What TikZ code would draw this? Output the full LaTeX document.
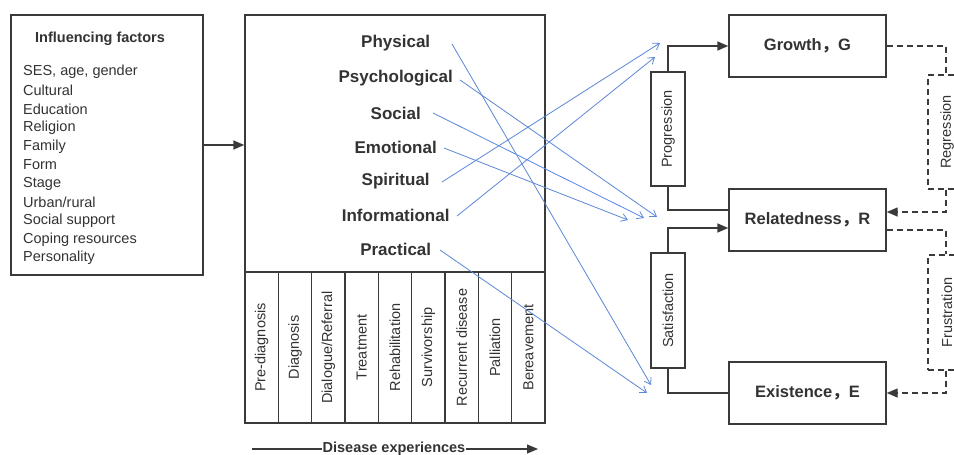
\documentclass[tikz,border=0pt]{standalone}
\usepackage{fontspec}
\setmainfont{Liberation Sans}
\newfontfamily\cjk{Noto Sans CJK SC}
\usetikzlibrary{arrows.meta}
\definecolor{ink}{HTML}{333333}
\definecolor{lin}{HTML}{3A3A3A}
\definecolor{blu}{HTML}{5B87D6}
\tikzset{
  box/.style={draw=lin, line width=1.4pt, inner sep=0pt},
  dbox/.style={box, dash pattern=on 6pt off 4pt},
  reg/.style={font=\fontsize{14.5}{17}\selectfont, text=ink, inner sep=0pt},
  regb/.style={font=\fontsize{14.5}{17}\selectfont\bfseries, text=ink, inner sep=0pt},
  cat/.style={font=\fontsize{17}{20}\selectfont\bfseries, text=ink, inner sep=0pt},
  erg/.style={font=\fontsize{16.5}{19}\selectfont\bfseries, text=ink},
  stagecell/.style={box, line width=1.2pt, minimum width=33.33pt, minimum height=151pt},
  vtext/.style={reg, rotate=90},
  link/.style={draw=blu, line width=0.8pt, -{Straight Barb[length=6pt,width=8pt]}},
  conn/.style={draw=lin, line width=1.4pt},
  tip/.style={-{Triangle[length=11pt,width=9pt]}},
  dconn/.style={conn, dash pattern=on 6pt off 4pt},
}
\begin{document}
\begin{tikzpicture}[x=1pt,y=-1pt]
\path[use as bounding box, clip] (0,0) rectangle (954,455);
\fill[white] (0,0) rectangle (954,455);

% influencing factors
\node[box, minimum width=192pt, minimum height=260pt] (inf) at (107,145) {};
\node[regb] (inft) at (100,39) {Influencing factors};
\foreach \t [count=\i] in {{SES, age, gender},Cultural,Education,Religion,Family,Form,Stage,Urban/rural,Social support,Coping resources,Personality}
  \node[reg, anchor=west] (f\i) at (23,{72+(\i-1)*18.6}) {\t};

% disease box
\node[box, minimum width=300pt, minimum height=257pt] (dis) at (395,143.5) {};
\foreach \t [count=\i] in {Pre-diagnosis,Diagnosis,Dialogue/Referral,Treatment,Rehabilitation,Survivorship,Recurrent disease,Palliation,Bereavement}{
  \node[stagecell] (s\i) at ({245+(\i-0.5)*33.333},347.5) {};
  \node[vtext] (st\i) at (s\i) {\t};
}
\draw[box, fill=none] (245,15) rectangle (545,423);

\node[cat] (phy) at (395.7,43) {Physical};
\node[cat] (psy) at (395.7,78) {Psychological};
\node[cat] (soc) at (395.7,113) {Social};
\node[cat] (emo) at (395.7,147) {Emotional};
\node[cat] (spi) at (395.7,181) {Spiritual};
\node[cat] (inform) at (395.7,215) {Informational};
\node[cat] (pra) at (395.7,249) {Practical};

\draw[conn, tip] (inf.east) -- (inf.east -| dis.west);

% disease experiences arrow
\coordinate (de1) at (252,449);
\coordinate (de2) at (538,449);
\draw[conn, line width=1.2pt, tip] (de1) -- (de2);
\node[regb, fill=white, inner xsep=1pt] (det) at (394,449) {Disease experiences};

% ERG boxes
\node[box, minimum width=157pt, minimum height=62pt] (G) at (807.5,46) {};
\node[erg] at (G) {Growth{\cjk ，}G};
\node[box, minimum width=157pt, minimum height=62pt] (R) at (807.5,220) {};
\node[erg] at (R) {Relatedness{\cjk ，}R};
\node[box, minimum width=157pt, minimum height=62pt] (E) at (807.5,393) {};
\node[erg] at (E) {Existence{\cjk ，}E};

\node[box, minimum width=34pt, minimum height=114pt] (prog) at (668,129) {};
\node[vtext] at (prog) {Progression};
\node[box, minimum width=34pt, minimum height=115pt] (sat) at (668,310.5) {};
\node[vtext] at (sat) {Satisfaction};
\node[dbox, minimum width=36pt, minimum height=114pt] (regr) at (946,132) {};
\node[vtext] at (947,132) {Regression};
\node[dbox, minimum width=36pt, minimum height=115pt] (fru) at (946,312.5) {};
\node[vtext] at (947,312.5) {Frustration};

\draw[conn, tip] (prog.north) |- (G.west);
\draw[conn] (prog.south) |- ([yshift=10pt]R.west);
\draw[conn, tip] (sat.north) |- ([yshift=-8pt]R.west);
\draw[conn] (sat.south) |- (E.west);

\draw[dconn] (G.east) -| (regr.north);
\draw[dconn, tip] (regr.south) |- ([yshift=8pt]R.east);
\draw[dconn] ([yshift=-10pt]R.east) -| (fru.north);
\draw[dconn, tip] (fru.south) |- (E.east);

% blue links
\coordinate (sPhy) at (452,44);
\coordinate (sPsy) at (460,80);
\coordinate (sSoc) at (433,113);
\coordinate (sEmo) at (444,148);
\coordinate (sSpi) at (442,182);
\coordinate (sInf) at (457,216);
\coordinate (sPra) at (440,250);
\coordinate (aG1) at (660,43);
\coordinate (aG2) at (655,57);
\coordinate (aR1) at (628,220);
\coordinate (aR2) at (644,218);
\coordinate (aR3) at (657,217);
\coordinate (aE1) at (651,385);
\coordinate (aE2) at (647,393);
\draw[link] (sPhy) -- (aE1);
\draw[link] (sPsy) -- (aR3);
\draw[link] (sSoc) -- (aR2);
\draw[link] (sEmo) -- (aR1);
\draw[link] (sSpi) -- (aG1);
\draw[link] (sInf) -- (aG2);
\draw[link] (sPra) -- (aE2);
\end{tikzpicture}
\end{document}
